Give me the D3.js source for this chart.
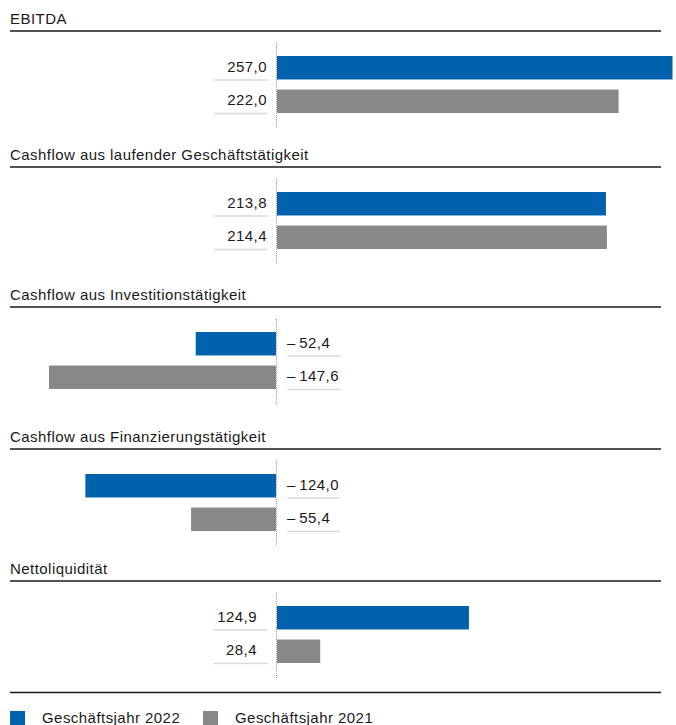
<!DOCTYPE html>
<html>
<head>
<meta charset="utf-8">
<script src="https://cdn.jsdelivr.net/npm/d3@7"></script>
<style>
  body { margin: 0; background: #fff; }
  text { font-family: "Liberation Sans", Arial, Helvetica, sans-serif; font-size: 15px; letter-spacing: 0.45px; fill: #1a1a1a; }
</style>
</head>
<body>
<div id="chart"></div>
<script>
// data
let sections = ["EBITDA", "Cashflow aus laufender Geschäftstätigkeit", "Cashflow aus Investitionstätigkeit",
    "Cashflow aus Finanzierungstätigkeit", "Nettoliquidität"]
let years = ["Geschäftsjahr 2022", "Geschäftsjahr 2021"]
let values2022 = [257.0, 213.8, -52.4, -124.0, 124.9]
let values2021 = [222.0, 214.4, -147.6, -55.4, 28.4]
let colors = ["#0061ad", "#878887"]

// layout
let width = 676, height = 725
let sectionLines = [31, 167, 307, 449, 581]
let lineEnd = 661

let svg = d3.select("#chart")
    .append("svg")
    .attr("width", width)
    .attr("height", height)

let x = d3.scaleLinear()
    .domain([-179.4, 257])
    .range([0, 672.5])

let band = d3.scaleBand()
    .domain(years)
    .range([25, 82])
    .paddingInner(0.3)

let fmt = function (v) {
    let s = d3.format(".1f")(Math.abs(v)).replace(".", ",")
    return v < 0 ? "\u2013\u2009" + s : s
}

sections.forEach((title, i) => {
    let g = svg.append("g")
        .attr("transform", "translate(0," + sectionLines[i] + ")")

    g.append("text")
        .attr("x", 10)
        .attr("y", -7)
        .text(title)

    g.append("line")
        .attr("x1", 10).attr("x2", lineEnd)
        .attr("y1", 0).attr("y2", 0)
        .attr("stroke", "#1a1a1a")
        .attr("stroke-width", 1.5)

    // zero line
    g.append("line")
        .attr("x1", x(0)).attr("x2", x(0))
        .attr("y1", 12).attr("y2", 97)
        .attr("stroke", "#9a9a9a")
        .attr("stroke-width", 1)
        .attr("stroke-dasharray", "1,1")

    let rows = [
        {year: years[0], value: values2022[i], color: colors[0]},
        {year: years[1], value: values2021[i], color: colors[1]}
    ]

    g.selectAll("rect")
        .data(rows)
        .enter()
        .append("rect")
        .attr("x", d => d.value < 0 ? x(d.value) : x(0) + 0.5)
        .attr("y", d => band(d.year))
        .attr("width", d => Math.abs(x(d.value) - x(0)) - 0.5)
        .attr("height", band.bandwidth())
        .attr("fill", d => d.color)

    // last block has its labels set a bit further left
    let labelEnd = i === 4 ? 257 : 267

    rows.forEach(d => {
        let neg = d.value < 0
        let y0 = band(d.year)
        g.append("line")
            .attr("x1", neg ? x(0) + 11 : x(0) - 63)
            .attr("x2", neg ? x(0) + 64 : x(0) - 9)
            .attr("y1", y0 + band.bandwidth() + 0.5)
            .attr("y2", y0 + band.bandwidth() + 0.5)
            .attr("stroke", "#dadada")
            .attr("stroke-width", 1.5)
        g.append("text")
            .attr("x", neg ? x(0) + 10.5 : labelEnd)
            .attr("y", y0 + 15.5)
            .attr("text-anchor", neg ? "start" : "end")
            .text(fmt(d.value))
    })
})

// legend
svg.append("line")
    .attr("x1", 10).attr("x2", lineEnd)
    .attr("y1", 692.5).attr("y2", 692.5)
    .attr("stroke", "#1a1a1a")
    .attr("stroke-width", 1.5)

let legendX = [10, 203]
let lg = svg.selectAll(".legend")
    .data(years)
    .enter()
    .append("g")
    .attr("class", "legend")
    .attr("transform", (d, i) => "translate(" + legendX[i] + ",711)")
lg.append("rect")
    .attr("width", 15)
    .attr("height", 14)
    .attr("fill", (d, i) => colors[i])
lg.append("text")
    .attr("x", 32)
    .attr("y", 12)
    .text(d => d)
</script>
</body>
</html>
